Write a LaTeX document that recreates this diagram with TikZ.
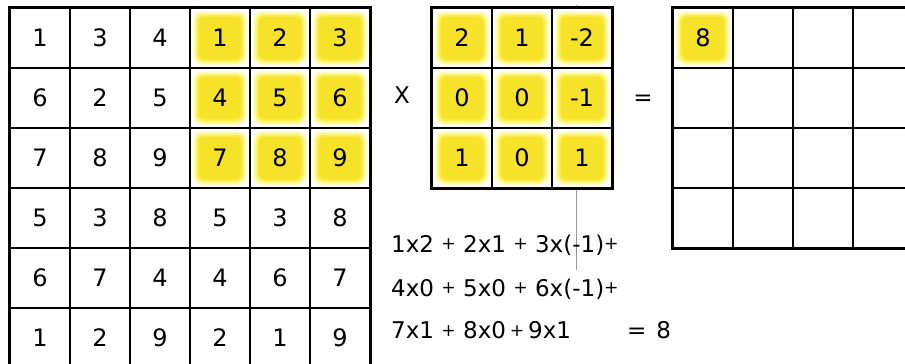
\documentclass[tikz,border=0pt]{standalone}
\usepackage{fontspec}
\setmainfont{DejaVu Sans}
\usepackage{graphicx}
\definecolor{glowA}{RGB}{255,253,195}
\definecolor{glowB}{RGB}{254,246,130}
\definecolor{glowC}{RGB}{250,235,75}
\definecolor{glowD}{RGB}{246,226,40}
\definecolor{guide}{RGB}{150,150,150}
\newcommand\pl{\raisebox{0.1em}{\scalebox{0.75}{+}}}
\tikzset{
  cell/.style={draw, fill=white, line width=1.6pt, minimum size=60pt, inner sep=0pt,
    font=\fontsize{24}{24}\selectfont},
  ycell/.style={path picture={
    \fill[glowA, rounded corners=9pt] ([shift={(3pt,3pt)}]path picture bounding box.south west) rectangle ([shift={(-3pt,-3pt)}]path picture bounding box.north east);
    \fill[glowB, rounded corners=8pt] ([shift={(5pt,5pt)}]path picture bounding box.south west) rectangle ([shift={(-5pt,-5pt)}]path picture bounding box.north east);
    \fill[glowC, rounded corners=7pt] ([shift={(7pt,7pt)}]path picture bounding box.south west) rectangle ([shift={(-7pt,-7pt)}]path picture bounding box.north east);
    \fill[glowD, rounded corners=5pt] ([shift={(9pt,9pt)}]path picture bounding box.south west) rectangle ([shift={(-9pt,-9pt)}]path picture bounding box.north east);
  }},
  glow/.is choice,
  glow/0/.style={},
  glow/1/.style={ycell},
  frame/.style={draw, line width=2.6pt},
  eqtext/.style={anchor=west, inner sep=0pt, font=\fontsize{23}{23}\selectfont},
  sym/.style={inner sep=0pt, font=\fontsize{23}{23}\selectfont}
}
\begin{document}
\begin{tikzpicture}[x=1pt,y=-1pt]
\clip (0,0) rectangle (905,364);
\fill[white] (0,0) rectangle (905,364);
% guide line behind kernel
\coordinate (gtop) at (576,5);
\coordinate (gbot) at (576,270);
\draw[guide, line width=1pt] (gtop) -- (gbot);
% input grid
\foreach [count=\r] \row in {{1,3,4,1,2,3},{6,2,5,4,5,6},{7,8,9,7,8,9},{5,3,8,5,3,8},{6,7,4,4,6,7},{1,2,9,2,1,9}} {
  \foreach [count=\c] \v in \row {
    \pgfmathtruncatemacro\yy{(\r<4)&&(\c>3)}
    \node[cell, glow=\yy] (A-\r-\c) at ({40+60*(\c-1)},{38+60*(\r-1)}) {\v};
  }
}
\draw[frame] (A-1-1.north west) rectangle (A-6-6.south east);
% kernel
\foreach [count=\r] \row in {{2,1,-2},{0,0,-1},{1,0,1}} {
  \foreach [count=\c] \v in \row {
    \node[cell, ycell] (K-\r-\c) at ({462+60*(\c-1)},{38+60*(\r-1)}) {\v};
  }
}
\draw[frame] (K-1-1.north west) rectangle (K-3-3.south east);
% output grid
\foreach \r in {1,...,4} {
  \foreach \c in {1,...,4} {
    \pgfmathtruncatemacro\yy{(\r==1)&&(\c==1)}
    \node[cell, glow=\yy] (O-\r-\c) at ({703+60*(\c-1)},{38+60*(\r-1)}) {\ifnum\yy=1 8\fi};
  }
}
\draw[frame] (O-1-1.north west) rectangle (O-4-4.south east);
% symbols
\node[sym] (times) at (402,95) {X};
\node[sym] (equals) at (643,100) {=};
% equation
\node[eqtext] (eq1) at (391,245) {1x2 \pl{} 2x1 \pl{} 3x(-1)\pl};
\node[eqtext] (eq2) at (391,289) {4x0 \pl{} 5x0 \pl{} 6x(-1)\pl};
\node[eqtext] (eq3) at (391,330) {7x1 \pl{} 8x0\,\pl\,9x1};
\node[eqtext] (res) at (627,330) {=\hspace{10pt}8};
\end{tikzpicture}
\end{document}
